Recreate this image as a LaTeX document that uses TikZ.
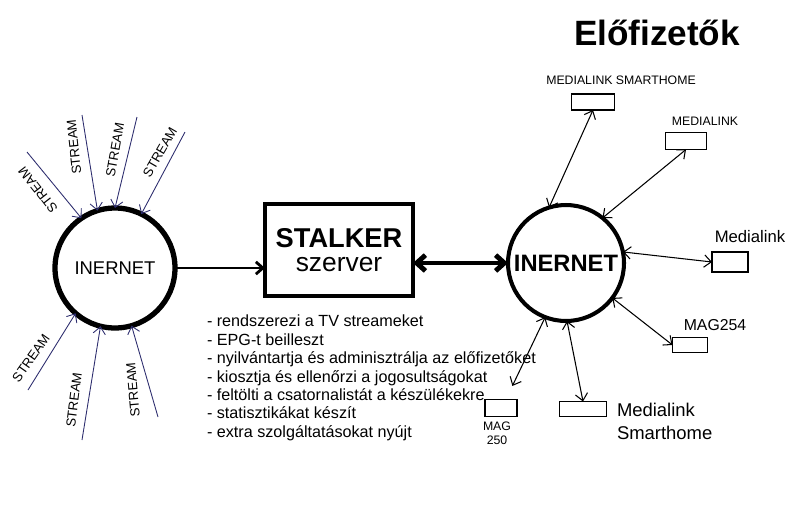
\documentclass[tikz,border=0pt]{standalone}
\usepackage{xcolor}
\usepackage{fontspec}
\setmainfont{Liberation Sans}
\usepackage{tikz}
\usetikzlibrary{shapes,arrows,positioning,calc,arrows.meta}
\definecolor{streamblue}{RGB}{45,45,110}

\begin{document}
\begin{tikzpicture}[x=0.02cm, y=-0.02cm, outer sep=0pt,
    >={Straight Barb[length=4pt,width=7pt]},
    net/.style={draw, circle, line width=3pt, inner sep=0pt},
    device/.style={draw, rectangle, line width=0.9pt, inner sep=0pt},
    devlabel/.style={font=\fontsize{7}{8}\selectfont, inner sep=0pt},
    handlabel/.style={font=\fontsize{9.5}{11}\selectfont, inner sep=0pt, align=left},
    stream/.style={->, draw=streamblue, line width=0.5pt},
    streamlabel/.style={font=\fontsize{7.5}{8}\selectfont, inner sep=0pt},
    link/.style={<->, line width=0.6pt}]
    \useasboundingbox (0,0) rectangle (800,504);

    \node [net, minimum size=2.4cm, font=\fontsize{10.5}{12}\selectfont] (lnet) at (115,268) {INERNET};
    \node [net, minimum size=2.32cm, line width=2.3pt, font=\fontsize{13.5}{14}\selectfont\bfseries] (rnet) at (566,263) {INERNET};
    \node [draw, rectangle, line width=1.8pt, minimum width=2.96cm, minimum height=1.84cm, align=center] (stalker) at (339,250) {{\fontsize{15.5}{17}\selectfont\bfseries STALKER}\\[2pt]{\fontsize{15}{16}\selectfont szerver}};

    \node [anchor=north west, align=left, inner sep=0pt, font=\fontsize{9.2}{10.5}\selectfont] (duties) at (207,315) {- rendszerezi a TV streameket\\
        - EPG-t beilleszt\\
        - nyilvántartja és adminisztrálja az előfizetőket\\
        - kiosztja és ellenőrzi a jogosultságokat\\
        - feltölti a csatornalistát a készülékekre\\
        - statisztikákat készít\\
        - extra szolgáltatásokat nyújt};

    \node [font=\fontsize{20}{22}\selectfont\bfseries, inner sep=0pt] (title) at (657,33) {Előfizetők};

    \node [device, minimum width=0.86cm, minimum height=0.32cm] (smarthome) at (593,102) {};
    \node [devlabel] (smarthomelbl) at (621,80) {MEDIALINK SMARTHOME};
    \node [device, minimum width=0.82cm, minimum height=0.34cm] (medialink) at (686,141) {};
    \node [devlabel] (medialinklbl) at (705,121) {MEDIALINK};
    \node [device, minimum width=0.72cm, minimum height=0.4cm] (medialinkb) at (730,262) {};
    \node [handlabel] (medialinkblbl) at (750,237) {Medialink};
    \node [device, minimum width=0.7cm, minimum height=0.3cm] (magb) at (690,345) {};
    \node [handlabel, font=\fontsize{9}{10}\selectfont] (magblbl) at (715,325) {MAG254};
    \node [device, minimum width=0.94cm, minimum height=0.3cm] (smarthomeb) at (583,409) {};
    \node [handlabel, font=\fontsize{10.5}{13}\selectfont, anchor=north west] (smarthomeblbl) at (617,403) {Medialink\\ Smarthome};
    \node [device, minimum width=0.64cm, minimum height=0.34cm] (maga) at (501,408) {};
    \node [devlabel, align=center, anchor=north] (magalbl) at (497,422) {MAG\\ 250};

    \coordinate (s1) at (27,152);
    \coordinate (s2) at (82,115);
    \coordinate (s3) at (137,117);
    \coordinate (s4) at (185,132);
    \coordinate (s5) at (28,390);
    \coordinate (s6) at (82,440);
    \coordinate (s7) at (158,417);
    \draw [stream] (s1) -- (lnet.124);
    \draw [stream] (s2) -- (lnet.107);
    \draw [stream] (s3) -- (lnet.90);
    \draw [stream] (s4) -- (lnet.64);
    \draw [stream] (s5) -- (lnet.229);
    \draw [stream] (s6) -- (lnet.256);
    \draw [stream] (s7) -- (lnet.286);
    \node [streamlabel, rotate=128] (t1) at (38,190) {STREAM};
    \node [streamlabel, rotate=96] (t2) at (74,147) {STREAM};
    \node [streamlabel, rotate=80] (t3) at (115,150) {STREAM};
    \node [streamlabel, rotate=60] (t4) at (160,152) {STREAM};
    \node [streamlabel, rotate=55] (t5) at (31,358) {STREAM};
    \node [streamlabel, rotate=83] (t6) at (74,400) {STREAM};
    \node [streamlabel, rotate=95] (t7) at (133,390) {STREAM};

    \draw [->, line width=1.6pt] (lnet.east) -- (lnet.east -| stalker.west);
    \draw [<->, line width=2.8pt, >={Straight Barb[length=5pt,width=9pt]}] (stalker.east |- rnet) -- (rnet.west);

    \draw [link] (rnet.107) -- (smarthome.south);
    \draw [link] (rnet.51) -- (medialink.south);
    \draw [link] (rnet.11) -- (medialinkb.west);
    \draw [link] (rnet.-37) -- (magb.west);
    \draw [link] (rnet.-89) -- (smarthomeb.north);
    \draw [link, shorten >=0.3cm] (rnet.249) -- (maga.60);
\end{tikzpicture}
\end{document}
